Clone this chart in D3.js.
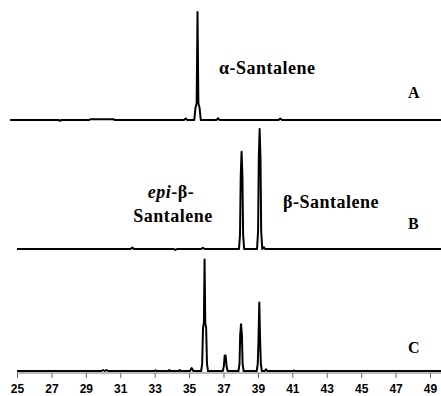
<!DOCTYPE html>
<html>
<head>
<meta charset="utf-8">
<script src="https://cdn.jsdelivr.net/npm/d3@7"></script>
<style>
  body { margin: 0; background: #fff; }
  svg { display: block; }
  .axis text { font-family: "Liberation Sans", Arial, sans-serif; font-weight: bold; font-size: 12px; fill: #000; }
</style>
</head>
<body>
<div id="chart"></div>
<script>
// retention time (min), relative intensity (%)
const traceA = [
  [24.6,0],[27.4,0],[27.5,-0.6],[27.6,0],[29.2,0],[29.25,0.6],[30.6,0.6],[30.7,0],
  [34.7,0],[34.8,1.2],[34.9,0],
  [35.3,0],[35.37,10],[35.44,14],[35.49,90],[35.54,14],[35.61,10],[35.68,0],
  [36.6,0],[36.68,1.5],[36.76,0],[40.2,0],[40.3,1.2],[40.4,0],[49.64,0]
];
const traceB = [
  [25,0],[31.6,0],[31.7,1.2],[31.8,0],[34.1,0],[34.2,-0.8],[34.3,0],[35.7,0],[35.8,1],[35.9,0],
  [37.9,0],[37.96,12],[38.0,60],[38.05,81],[38.1,60],[38.14,12],[38.2,0],
  [38.95,0],[39.01,15],[39.05,75],[39.1,100],[39.15,75],[39.19,15],[39.25,0],
  [39.35,1.5],[39.42,0],[49.64,0]
];
const traceC = [
  [25,0],[29.9,0],[30.0,0.8],[30.1,0],[30.2,0.8],[30.3,0],[33.0,0],[33.05,0.6],[33.1,0],
  [33.8,0],[33.85,0.8],[33.9,0],[34.4,0],[34.45,0.8],[34.5,0],[35.05,0],[35.15,2.5],[35.25,0],
  [35.7,0],[35.76,6],[35.81,36],[35.86,40],[35.9,93],[35.94,40],[35.99,36],[36.04,6],[36.1,0],
  [36.96,0],[37.02,4],[37.07,13],[37.12,13],[37.18,4],[37.24,0],
  [37.87,0],[37.93,6],[37.97,30],[38.02,39],[38.07,30],[38.11,6],[38.17,0],
  [38.93,0],[38.99,6],[39.03,24],[39.08,57],[39.13,24],[39.17,6],[39.23,0],
  [39.4,0],[39.47,1.5],[39.54,0],[41.05,0],[41.1,0.5],[41.15,0],[49.64,0]
];
const tickValues = [25,27,29,31,33,35,37,39,41,43,45,47,49];
const xEnd = 49.64;

const panels = [
  { data: traceA, base: 120, tag: 'A', tagY: 98 },
  { data: traceB, base: 249, tag: 'B', tagY: 229 },
  { data: traceC, base: 371, tag: 'C', tagY: 353 }
];

const serif = '"Liberation Serif", "DejaVu Serif", serif';

const width = 441, height = 396;
const svg = d3.select('#chart').append('svg')
  .attr('width', width).attr('height', height);

const x = d3.scaleLinear().domain([25, 49]).range([17, 430]);

// axis under trace C
const axisY = 373;
const axis = svg.append('g')
  .attr('class', 'axis')
  .attr('transform', `translate(0,${axisY})`)
  .call(d3.axisBottom(x).tickValues(tickValues).tickSize(5).tickFormat(d3.format('d')));
axis.select('.domain').remove();
axis.selectAll('.tick line').attr('stroke', '#666');
axis.selectAll('.tick text').attr('y', 20).attr('dy', 0);
axis.append('line')
  .attr('x1', x(25)).attr('x2', x(xEnd))
  .attr('stroke', '#777').attr('stroke-width', 1);

function label(xp, yp, size, anchor) {
  return svg.append('text')
    .attr('x', xp).attr('y', yp)
    .attr('font-family', serif)
    .attr('font-weight', 'bold')
    .attr('font-size', size)
    .attr('letter-spacing', size > 16 ? 0.5 : 0)
    .attr('text-anchor', anchor || 'start')
    .attr('fill', '#000');
}

panels.forEach(p => {
  const y = d3.scaleLinear().domain([0, 100]).range([p.base, p.base - 120]);
  const line = d3.line().x(d => x(d[0])).y(d => y(d[1]));
  svg.append('path')
    .datum(p.data)
    .attr('d', line)
    .attr('fill', 'none')
    .attr('stroke', '#000')
    .attr('stroke-width', 2)
    .attr('stroke-linejoin', 'round');
  label(408, p.tagY, 16).text(p.tag);
});

// compound labels
label(219, 74, 18).text('α-Santalene');
label(283, 208, 18).text('β-Santalene');

const epi = label(171, 198, 18, 'middle');
epi.append('tspan').attr('font-style', 'italic').text('epi');
epi.append('tspan').text('-β-');

label(173, 222, 18, 'middle').text('Santalene');
</script>
</body>
</html>
